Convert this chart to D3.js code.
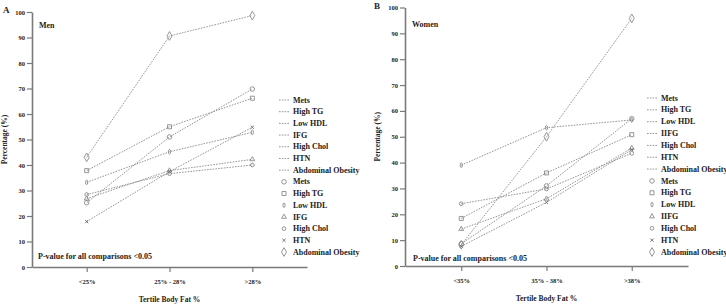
<!DOCTYPE html>
<html><head><meta charset="utf-8">
<script src="https://cdn.jsdelivr.net/npm/d3@7"></script>
<style>body{margin:0;background:#fff}svg{display:block}text{font-family:"Liberation Serif","Times New Roman",serif;font-weight:bold;fill:#222}</style>
</head><body>
<script>
// ---- data ----
const seriesNames = ["Mets","High TG","Low HDL","IFG","High Chol","HTN","Abdominal Obesity"];
const seriesNamesWomen = ["Mets","High TG","Low HDL","IIFG","High Chol","HTN","Abdominal Obesity"];
const yTicks = [0,10,20,30,40,50,60,70,80,90,100];

const menCategories = ["<25%","25% - 28%",">28%"];
const menMets = [25.2, 51, 69.8];
const menHighTG = [37.8, 55, 66.2];
const menLowHDL = [33.2, 45.2, 52.8];
const menIFG = [26.8, 37.8, 42.2];
const menHighChol = [28.4, 36.6, 40];
const menHTN = [17.8, 37.4, 54.8];
const menAO = [43, 90.6, 98.6];

const womenCategories = ["<35%","35% - 38%",">38%"];
const womenMets = [8.6, 31, 57];
const womenHighTG = [18.4, 36, 50.8];
const womenLowHDL = [39, 53.5, 56.5];
const womenIFG = [14.3, 26, 45.6];
const womenHighChol = [24.1, 29.8, 43.6];
const womenHTN = [7.6, 24.6, 45];
const womenAO = [8.2, 50, 95.8];

const panels = [
  {letter:"A", title:"Men", cats:menCategories, names:seriesNames,
   values:[menMets,menHighTG,menLowHDL,menIFG,menHighChol,menHTN,menAO]},
  {letter:"B", title:"Women", cats:womenCategories, names:seriesNamesWomen,
   values:[womenMets,womenHighTG,womenLowHDL,womenIFG,womenHighChol,womenHTN,womenAO]}
];

// ---- layout ----
const layouts = [
  {x0:32, x1:307, y0:267, y100:12, letterX:3, letterY:13, titleX:39, titleY:28, pX:38, pY:259,
   ylabX:7, legLine0:279, legLine1:290, legSym:284, legText:293, legTop:100, legBot:252},
  {x0:405, x1:688, y0:266, y100:7.5, letterX:374, letterY:9, titleX:412, titleY:27, pX:413, pY:261,
   ylabX:380, legLine0:647, legLine1:658, legSym:652, legText:661, legTop:98, legBot:252}
];

const W=726, H=305;
const svg = d3.select("body").append("svg").attr("width",W).attr("height",H);
const gray="#8a8a8a", axisGray="#7a7a7a";

const shapes = [
  d3.symbol().type(d3.symbolCircle).size(16),
  d3.symbol().type(d3.symbolSquare).size(16),
  null, // thin ellipse for Low HDL
  d3.symbol().type(d3.symbolTriangle).size(10),
  d3.symbol().type(d3.symbolCircle).size(11),
  d3.symbol().type(d3.symbolTimes).size(8),
  d3.symbol().type(d3.symbolDiamond).size(22)
];

function drawMarker(g, i, x, y){
  if(i===2){
    g.append("ellipse").attr("cx",x).attr("cy",y).attr("rx",1.1).attr("ry",2.3)
      .attr("fill","none").attr("stroke",gray).attr("stroke-width",0.9);
  } else {
    g.append("path").attr("d",shapes[i]()).attr("transform",`translate(${x},${y})`)
      .attr("fill","none").attr("stroke", i===5? "#666": gray).attr("stroke-width",0.9);
  }
}

panels.forEach((p,pi)=>{
  const L = layouts[pi];
  const g = svg.append("g");
  const x = d3.scalePoint().domain(p.cats).range([L.x0,L.x1]).padding(0.66);
  const y = d3.scaleLinear().domain([0,100]).range([L.y0,L.y100]);

  // axes
  const ya = g.append("g").attr("transform",`translate(${L.x0},0)`)
    .call(d3.axisLeft(y).tickValues(yTicks).tickSize(5).tickPadding(2).tickSizeOuter(0));
  const xa = g.append("g").attr("transform",`translate(0,${L.y0})`)
    .call(d3.axisBottom(x).tickSize(5).tickPadding(7).tickSizeOuter(0));
  [ya,xa].forEach(a=>{
    a.select(".domain").attr("stroke",axisGray).attr("stroke-width",1.6);
    a.selectAll(".tick line").attr("stroke",axisGray).attr("stroke-width",1.2);
    a.selectAll("text").attr("font-size","6.5px").attr("font-family","Liberation Serif").attr("font-weight","bold").attr("fill","#222");
  });

  // lines
  const line = d3.line().x((d,i)=>x(p.cats[i])).y(d=>y(d));
  p.values.forEach((vals,si)=>{
    g.append("path").attr("d",line(vals)).attr("fill","none")
      .attr("stroke",gray).attr("stroke-width",0.9).attr("stroke-dasharray","1.6,1.2");
  });
  p.values.forEach((vals,si)=>{
    vals.forEach((v,ci)=>drawMarker(g, si, x(p.cats[ci]), y(v)));
  });

  // texts
  g.append("text").attr("x",L.letterX).attr("y",L.letterY).attr("font-size","9px").text(p.letter);
  g.append("text").attr("x",L.titleX).attr("y",L.titleY).attr("font-size","8px").text(p.title);
  g.append("text").attr("x",L.pX).attr("y",L.pY).attr("font-size","8px").text("P-value for all comparisons <0.05");
  g.append("text").attr("x",(L.x0+L.x1)/2).attr("y",L.y0+35).attr("text-anchor","middle")
    .attr("font-size","7.5px").text("Tertile Body Fat %");
  const ymid=(L.y0+L.y100)/2;
  g.append("text").attr("transform",`translate(${L.ylabX},${ymid}) rotate(-90)`)
    .attr("text-anchor","middle").attr("font-size","7.5px").text("Percentage (%)");

  // legend
  const n = p.names.length;
  const step = (L.legBot-L.legTop)/(2*n-1);
  p.names.forEach((name,i)=>{
    const ly = L.legTop + i*step;
    g.append("line").attr("x1",L.legLine0).attr("x2",L.legLine1).attr("y1",ly).attr("y2",ly)
      .attr("stroke",gray).attr("stroke-width",0.9).attr("stroke-dasharray","1.6,1.2");
    g.append("text").attr("x",L.legText).attr("y",ly).attr("dy","0.33em").attr("font-size","8px").text(name);
  });
  p.names.forEach((name,i)=>{
    const ly = L.legTop + (n+i)*step;
    drawMarker(g, i, L.legSym, ly);
    g.append("text").attr("x",L.legText).attr("y",ly).attr("dy","0.33em").attr("font-size","8px").text(name);
  });
});
</script>
</body></html>
